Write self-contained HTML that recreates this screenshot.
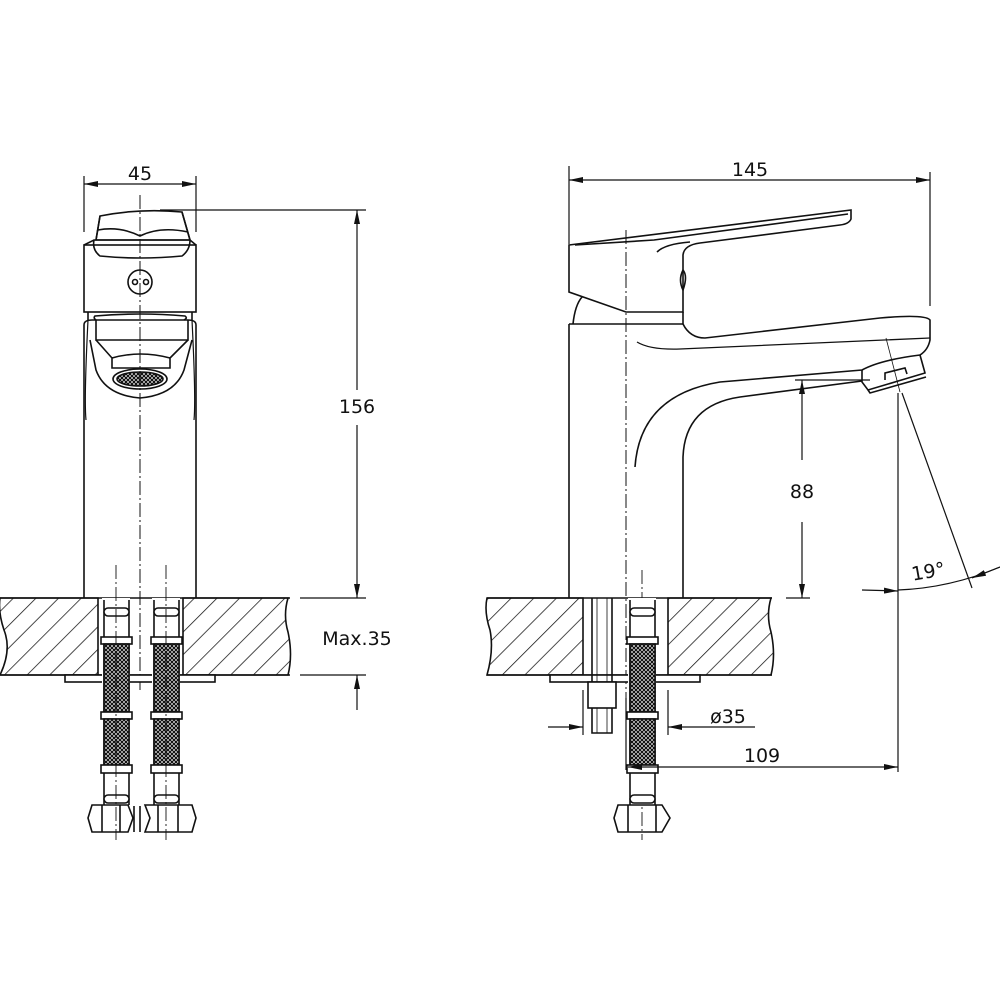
<!DOCTYPE html>
<html><head><meta charset="utf-8"><style>
html,body{margin:0;padding:0;background:#fff}
svg{display:block}
text{font-family:"DejaVu Sans","Liberation Sans",sans-serif;font-size:19px;fill:#111}
</style></head><body>
<svg width="1000" height="1000" viewBox="0 0 1000 1000" xmlns="http://www.w3.org/2000/svg">
<defs>
<pattern id="hatch" patternUnits="userSpaceOnUse" width="16" height="16" patternTransform="rotate(45)">
<line x1="0" y1="0" x2="0" y2="16" stroke="#111" stroke-width="1.5"/>
</pattern>
<pattern id="mesh" patternUnits="userSpaceOnUse" width="4" height="4">
<rect width="4" height="4" fill="#fff"/>
<path d="M0 0L4 4M4 0L0 4" stroke="#111" stroke-width="1.3"/>
</pattern>
<marker id="ar" markerWidth="14" markerHeight="6" refX="14" refY="3" orient="auto" markerUnits="userSpaceOnUse">
<path d="M0 0L14 3L0 6Z" fill="#111"/>
</marker>
</defs>
<g fill="none" stroke="#111" stroke-width="1.6">

<!-- ========== LEFT VIEW ========== -->
<line x1="84" y1="176" x2="84" y2="232" stroke-width="1.2"/>
<line x1="196" y1="176" x2="196" y2="232" stroke-width="1.2"/>
<line x1="140" y1="184" x2="84" y2="184" marker-end="url(#ar)" stroke-width="1.2"/>
<line x1="140" y1="184" x2="196" y2="184" marker-end="url(#ar)" stroke-width="1.2"/>
<line x1="160" y1="210" x2="366" y2="210" stroke-width="1.2"/>
<line x1="357" y1="390" x2="357" y2="210" marker-end="url(#ar)" stroke-width="1.2"/>
<line x1="357" y1="425" x2="357" y2="598" marker-end="url(#ar)" stroke-width="1.2"/>
<path d="M100 216 Q140 208 182 212 L190 240 L96 240 Z"/>
<path d="M100 216 L96 240 M182 212 L190 240 M98 230 Q120 226 140 236 Q160 226 188 232"/>
<path d="M84 245 L94 240 L190 240 L196 245"/>
<path d="M94 240 Q92 250 100 256 Q140 260 182 256 Q190 250 190 240"/>
<rect x="84" y="245" width="112" height="67"/>
<circle cx="140" cy="282" r="12"/>
<circle cx="135" cy="282" r="2.5"/><circle cx="146" cy="282" r="2.5"/>
<path d="M88 312 L88 320 M192 312 L192 320"/>
<path d="M84 325 Q84 320 92 320 L188 320 Q196 320 196 325"/>
<path d="M96 320 Q93 318 95 316 Q140 312 185 316 Q188 318 184 320"/>
<path d="M96 320 L96 340 L188 340 L188 320"/>
<path d="M96 340 L112 358 L112 368 L170 368 L170 358 L188 340"/>
<path d="M112 358 Q140 350 170 358"/>
<path d="M90 340 L96 370 Q105 395 140 398 Q175 395 184 370 L192 340"/>
<ellipse cx="140" cy="379" rx="27" ry="10"/>
<ellipse cx="140" cy="379" rx="23" ry="7" fill="url(#mesh)"/>
<path d="M84 325 Q84 420 84 598 M196 325 Q196 420 196 598"/>
<path d="M88 320 Q84 400 86 420 M192 320 Q196 400 194 420" stroke-width="1.2"/>
<line x1="140" y1="195" x2="140" y2="690" stroke-width="1" stroke-dasharray="14,3,2,3"/>
<path d="M0 598 L98 598 L98 675 L0 675 Q12 650 4 630 Q-2 612 0 598 Z" fill="url(#hatch)"/>
<path d="M183 598 L288 598 Q283 615 288 632 Q293 655 288 675 L183 675 Z" fill="url(#hatch)"/>
<line x1="0" y1="598" x2="290" y2="598"/>
<line x1="0" y1="675" x2="290" y2="675"/>
<rect x="65" y="675" width="150" height="7" fill="#fff"/>
<line x1="300" y1="598" x2="366" y2="598" stroke-width="1.2"/>
<line x1="300" y1="675" x2="366" y2="675" stroke-width="1.2"/>
<line x1="357" y1="710" x2="357" y2="675" marker-end="url(#ar)" stroke-width="1.2"/>
<g id="hose">
<rect x="102" y="598" width="28" height="207" fill="#fff" stroke="none"/>
<line x1="104" y1="600" x2="104" y2="805"/><line x1="129" y1="600" x2="129" y2="805"/>
<rect x="104" y="608" width="25" height="8" rx="4" fill="#fff"/>
<rect x="101" y="637" width="31" height="7" fill="#fff"/>
<rect x="104" y="644" width="25" height="68" fill="url(#mesh)"/>
<rect x="101" y="712" width="31" height="7" fill="#fff"/>
<rect x="104" y="719" width="25" height="46" fill="url(#mesh)"/>
<rect x="101" y="765" width="31" height="8" fill="#fff"/>
<rect x="104" y="795" width="25" height="8" rx="4" fill="#fff"/>
</g>
<use href="#hose" x="50"/>
<path d="M92 805 L128 805 L133 818 L128 832 L92 832 L88 818 Z"/>
<path d="M102 805 L102 832 M120 805 L120 832"/>
<path d="M145 805 L192 805 L196 818 L192 832 L145 832 L150 818 Z"/>
<path d="M158 805 L158 832 M178 805 L178 832"/>
<path d="M134 806 L134 832 M140 806 L140 832"/>
<line x1="116" y1="565" x2="116" y2="840" stroke-width="0.9" stroke-dasharray="14,3,2,3"/>
<line x1="166" y1="565" x2="166" y2="840" stroke-width="0.9" stroke-dasharray="14,3,2,3"/>

<!-- ========== RIGHT VIEW ========== -->
<line x1="569" y1="166" x2="569" y2="244" stroke-width="1.2"/>
<line x1="930" y1="172" x2="930" y2="306" stroke-width="1.2"/>
<line x1="750" y1="180" x2="569" y2="180" marker-end="url(#ar)" stroke-width="1.2"/>
<line x1="750" y1="180" x2="930" y2="180" marker-end="url(#ar)" stroke-width="1.2"/>
<path d="M569 245 L851 210 L851 219 Q849 224 840 225 L700 243 Q684 245 683 255 L683 312 L626 312 L569 292 Z"/>
<path d="M575 245 L654 240 L848 214"/>
<path d="M657 252 Q665 244 690 242"/>
<path d="M683 270 Q688 276 683 290 Q678 280 683 270"/>
<path d="M573 324 Q575 305 582 297"/>
<line x1="569" y1="324" x2="683" y2="324"/>
<line x1="569" y1="324" x2="569" y2="598"/>
<line x1="683" y1="312" x2="683" y2="324"/>
<line x1="683" y1="457" x2="683" y2="598"/>
<!-- spout -->
<path d="M683 324 Q690 338 705 338 L880 318 Q925 314 930 320 L930 340 Q928 350 920 355"/>
<path d="M637 342 Q650 350 680 349 L930 338" stroke-width="1.3"/>
<path d="M635 467 Q640 395 720 382 L862 370 Q880 360 920 355"/>
<path d="M683 457 Q685 405 740 397 L862 381"/>
<path d="M862 370 L862 382 L868 390 L925 373 L920 355"/>
<path d="M868 390 L870 393 L926 377"/>
<path d="M885 380 L885 373 L905 368 L907 374"/>
<line x1="886" y1="338" x2="900" y2="392" stroke-width="0.8"/>
<line x1="626" y1="230" x2="626" y2="740" stroke-width="1" stroke-dasharray="14,3,2,3"/>
<line x1="642" y1="570" x2="642" y2="840" stroke-width="0.9" stroke-dasharray="14,3,2,3"/>
<line x1="795" y1="380" x2="870" y2="380" stroke-width="1.2"/>
<line x1="802" y1="460" x2="802" y2="380" marker-end="url(#ar)" stroke-width="1.2"/>
<line x1="802" y1="522" x2="802" y2="598" marker-end="url(#ar)" stroke-width="1.2"/>
<line x1="786" y1="598" x2="810" y2="598" stroke-width="1.2"/>
<line x1="898" y1="393" x2="898" y2="772" stroke-width="1.2"/>
<line x1="902" y1="393" x2="972" y2="588" stroke-width="1.2"/>
<path d="M898 590 Q950 588 1000 567" stroke-width="1.2"/>
<line x1="862" y1="590" x2="898" y2="591" marker-end="url(#ar)" stroke-width="1.2"/>
<line x1="1000" y1="567" x2="972" y2="578" marker-end="url(#ar)" stroke-width="1.2"/>
<path d="M487 598 L583 598 L583 675 L487 675 Q494 650 490 630 Q484 612 487 598 Z" fill="url(#hatch)"/>
<path d="M668 598 L771 598 Q766 615 771 632 Q776 655 771 675 L668 675 Z" fill="url(#hatch)"/>
<line x1="487" y1="598" x2="772" y2="598"/>
<line x1="487" y1="675" x2="772" y2="675"/>
<rect x="550" y="675" width="150" height="7" fill="#fff"/>
<path d="M592 598 L592 733 L612 733 L612 598" />
<line x1="597" y1="598" x2="597" y2="733" stroke-width="0.8"/>
<line x1="607" y1="598" x2="607" y2="733" stroke-width="0.8"/>
<rect x="588" y="682" width="28" height="26" fill="#fff"/>
<use href="#hose" x="526"/>
<path d="M618 805 L662 805 L670 818 L662 832 L618 832 L614 818 Z"/>
<path d="M628 805 L628 832 M656 805 L656 832"/>
<line x1="583" y1="690" x2="583" y2="735" stroke-width="1.2"/>
<line x1="668" y1="690" x2="668" y2="735" stroke-width="1.2"/>
<line x1="548" y1="727" x2="583" y2="727" marker-end="url(#ar)" stroke-width="1.2"/>
<line x1="755" y1="727" x2="668" y2="727" marker-end="url(#ar)" stroke-width="1.2"/>
<line x1="626" y1="698" x2="626" y2="770" stroke-width="1.2"/>
<line x1="700" y1="767" x2="628" y2="767" marker-end="url(#ar)" stroke-width="1.2"/>
<line x1="700" y1="767" x2="898" y2="767" marker-end="url(#ar)" stroke-width="1.2"/>
</g>

<text x="140" y="180" text-anchor="middle">45</text>
<text x="357" y="413" text-anchor="middle">156</text>
<text x="357" y="645" text-anchor="middle">Max.35</text>
<text x="750" y="176" text-anchor="middle">145</text>
<text x="802" y="498" text-anchor="middle">88</text>
<text x="928" y="578" text-anchor="middle" transform="rotate(-10 928 570)">19°</text>
<text x="728" y="723" text-anchor="middle">ø35</text>
<text x="762" y="762" text-anchor="middle">109</text>
</svg>
</body></html>
